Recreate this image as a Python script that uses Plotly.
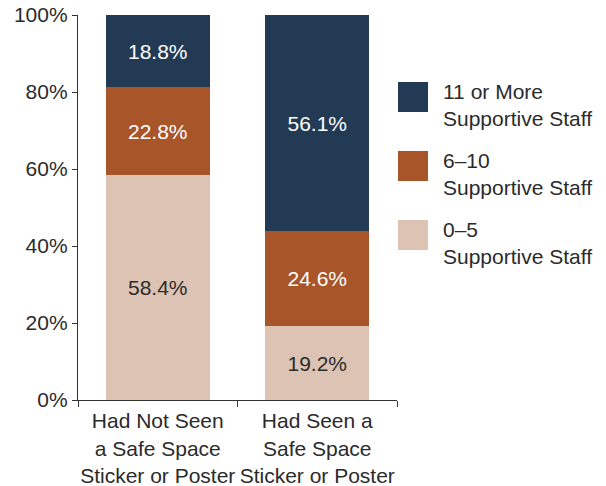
import plotly.graph_objects as go

categories = ["Had Not Seen<br>a Safe Space<br>Sticker or Poster",
              "Had Seen a<br>Safe Space<br>Sticker or Poster"]
series_names = ["0–5<br>Supportive Staff", "6–10<br>Supportive Staff", "11 or More<br>Supportive Staff"]
values_0_5 = [58.4, 19.2]
values_6_10 = [22.8, 24.6]
values_11_more = [18.8, 56.1]
tick_vals = [0, 20, 40, 60, 80, 100]
tick_text = ["0%", "20%", "40%", "60%", "80%", "100%"]

colors = ["#dcc3b3", "#a8552a", "#233a54"]
text_colors = ["#2b2b2b", "#ffffff", "#ffffff"]
series_values = [values_0_5, values_6_10, values_11_more]

FONT = "Liberation Sans, Arial, sans-serif"
FS = 21

W, H = 606, 486
L, T = 78, 15
PW, PH = 319, 385
R = W - L - PW
B = H - T - PH

fig = go.Figure()
for name, vals, col, tcol in zip(series_names, series_values, colors, text_colors):
    fig.add_trace(go.Bar(
        x=categories, y=vals, name=name,
        marker=dict(color=col, line=dict(width=0)),
        width=0.65,
        text=[f"{v:.1f}%" for v in vals],
        textposition="inside", insidetextanchor="middle",
        textfont=dict(color=tcol, size=FS, family=FONT),
        constraintext="none",
        hoverinfo="skip",
    ))

fig.update_layout(
    barmode="stack",
    width=W, height=H,
    margin=dict(l=L, r=R, t=T, b=B, autoexpand=False),
    plot_bgcolor="white", paper_bgcolor="white",
    showlegend=False,
    font=dict(family=FONT, size=FS, color="#2b2b2b"),
)
fig.update_yaxes(
    range=[0, 100], tickvals=tick_vals, ticktext=tick_text,
    showgrid=False, zeroline=False, automargin=False,
    showline=True, linecolor="#333333", linewidth=1.2,
    ticks="outside", ticklen=5, tickcolor="#333333",
    ticklabeloverflow="allow",
    tickfont=dict(size=FS, color="#2b2b2b"),
)
fig.update_xaxes(
    showgrid=False, showline=True, linecolor="#333333", linewidth=1.2,
    automargin=False, tickangle=0, ticklabelstandoff=2,
    ticklabeloverflow="allow",
    ticks="outside", ticklen=6, tickcolor="#333333", tickson="boundaries",
    tickfont=dict(size=FS, color="#2b2b2b"),
)

# custom legend (largest series first)
order = [2, 1, 0]
def px_x(pix):
    return (pix - L) / PW
def px_y(pix):
    return (H - B - pix) / PH
sq_tops = [82, 151, 220]
for idx, top in zip(order, sq_tops):
    fig.add_shape(type="rect", xref="paper", yref="paper",
                  x0=px_x(398), x1=px_x(428),
                  y0=px_y(top + 30), y1=px_y(top),
                  fillcolor=colors[idx], line=dict(width=0))
    fig.add_annotation(xref="paper", yref="paper",
                       x=px_x(441), y=px_y(top - 4),
                       xanchor="left", yanchor="top", align="left",
                       text=series_names[idx], showarrow=False,
                       font=dict(size=FS, color="#2b2b2b", family=FONT))

fig.write_html("out.html",
               config={"displayModeBar": False, "staticPlot": True},
               post_script="document.body.style.margin='0';document.body.style.overflow='hidden';")
